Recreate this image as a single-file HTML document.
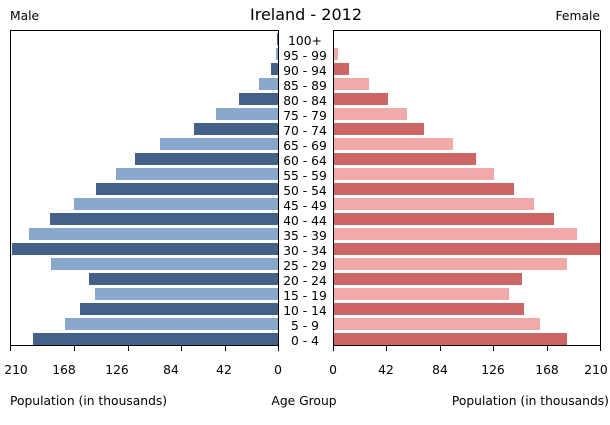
<!DOCTYPE html>
<html><head><meta charset="utf-8"><style>body{margin:0;background:#fff}svg{display:block}</style></head>
<body>
<svg width="610" height="425" xmlns="http://www.w3.org/2000/svg" font-family="DejaVu Sans, Liberation Sans, sans-serif" font-size="12.3">
<rect width="610" height="425" fill="#fff"/>
<g>
<rect x="33" y="333" width="245" height="12" fill="#44618a"/>
<rect x="65" y="318" width="213" height="12" fill="#88a8cc"/>
<rect x="80" y="303" width="198" height="12" fill="#44618a"/>
<rect x="95" y="288" width="183" height="12" fill="#88a8cc"/>
<rect x="89" y="273" width="189" height="12" fill="#44618a"/>
<rect x="51" y="258" width="227" height="12" fill="#88a8cc"/>
<rect x="12" y="243" width="266" height="12" fill="#44618a"/>
<rect x="29" y="228" width="249" height="12" fill="#88a8cc"/>
<rect x="50" y="213" width="228" height="12" fill="#44618a"/>
<rect x="74" y="198" width="204" height="12" fill="#88a8cc"/>
<rect x="96" y="183" width="182" height="12" fill="#44618a"/>
<rect x="116" y="168" width="162" height="12" fill="#88a8cc"/>
<rect x="135" y="153" width="143" height="12" fill="#44618a"/>
<rect x="160" y="138" width="118" height="12" fill="#88a8cc"/>
<rect x="194" y="123" width="84" height="12" fill="#44618a"/>
<rect x="216" y="108" width="62" height="12" fill="#88a8cc"/>
<rect x="239" y="93" width="39" height="12" fill="#44618a"/>
<rect x="259" y="78" width="19" height="12" fill="#88a8cc"/>
<rect x="271" y="63" width="7" height="12" fill="#44618a"/>
<rect x="276" y="48" width="2" height="12" fill="#88a8cc"/>
<rect x="277" y="33" width="1" height="12" fill="#44618a"/>
</g>
<g>
<rect x="333" y="333" width="234" height="12" fill="#cc6666"/>
<rect x="333" y="318" width="207" height="12" fill="#f0aaaa"/>
<rect x="333" y="303" width="191" height="12" fill="#cc6666"/>
<rect x="333" y="288" width="176" height="12" fill="#f0aaaa"/>
<rect x="333" y="273" width="189" height="12" fill="#cc6666"/>
<rect x="333" y="258" width="234" height="12" fill="#f0aaaa"/>
<rect x="333" y="243" width="267" height="12" fill="#cc6666"/>
<rect x="333" y="228" width="244" height="12" fill="#f0aaaa"/>
<rect x="333" y="213" width="221" height="12" fill="#cc6666"/>
<rect x="333" y="198" width="201" height="12" fill="#f0aaaa"/>
<rect x="333" y="183" width="181" height="12" fill="#cc6666"/>
<rect x="333" y="168" width="161" height="12" fill="#f0aaaa"/>
<rect x="333" y="153" width="143" height="12" fill="#cc6666"/>
<rect x="333" y="138" width="120" height="12" fill="#f0aaaa"/>
<rect x="333" y="123" width="91" height="12" fill="#cc6666"/>
<rect x="333" y="108" width="74" height="12" fill="#f0aaaa"/>
<rect x="333" y="93" width="55" height="12" fill="#cc6666"/>
<rect x="333" y="78" width="36" height="12" fill="#f0aaaa"/>
<rect x="333" y="63" width="16" height="12" fill="#cc6666"/>
<rect x="333" y="48" width="5" height="12" fill="#f0aaaa"/>
<rect x="333" y="33" width="1" height="12" fill="#cc6666"/>
</g>
<g fill="none" stroke="#000" stroke-width="1">
<rect x="10.5" y="30.5" width="268" height="315"/>
<rect x="333.5" y="30.5" width="267" height="315"/>
<path d="M10.5 345v6M74.5 345v6M128.5 345v6M181.5 345v6M225.5 345v6M278.5 345v6"/>
<path d="M333.5 345v6M386.5 345v6M440.5 345v6M493.5 345v6M547.5 345v6M600.5 345v6"/>
</g>
<g text-anchor="middle" fill="#000">
<text x="16" y="374">210</text><text x="64" y="374">168</text><text x="117" y="374">126</text><text x="171" y="374">84</text><text x="224" y="374">42</text><text x="278" y="374">0</text>
<text x="333" y="374">0</text><text x="386" y="374">42</text><text x="440" y="374">84</text><text x="493" y="374">126</text><text x="547" y="374">168</text><text x="596" y="374">210</text>
<text x="306" y="20" font-size="16">Ireland - 2012</text>
<text x="304" y="405">Age Group</text>
</g>
<g text-anchor="middle" fill="#000">
<text x="305" y="45">100+</text><text x="305" y="60">95 - 99</text><text x="305" y="75">90 - 94</text><text x="305" y="90">85 - 89</text><text x="305" y="105">80 - 84</text><text x="305" y="120">75 - 79</text><text x="305" y="135">70 - 74</text><text x="305" y="150">65 - 69</text><text x="305" y="165">60 - 64</text><text x="305" y="180">55 - 59</text><text x="305" y="195">50 - 54</text><text x="305" y="210">45 - 49</text><text x="305" y="225">40 - 44</text><text x="305" y="240">35 - 39</text><text x="305" y="255">30 - 34</text><text x="305" y="270">25 - 29</text><text x="305" y="285">20 - 24</text><text x="305" y="300">15 - 19</text><text x="305" y="315">10 - 14</text><text x="305" y="330">5 - 9</text><text x="305" y="345">0 - 4</text>
</g>
<text x="10" y="20">Male</text>
<text x="600" y="20" text-anchor="end">Female</text>
<text x="10" y="405">Population (in thousands)</text>
<text x="609" y="405" text-anchor="end">Population (in thousands)</text>
</svg>
</body></html>
